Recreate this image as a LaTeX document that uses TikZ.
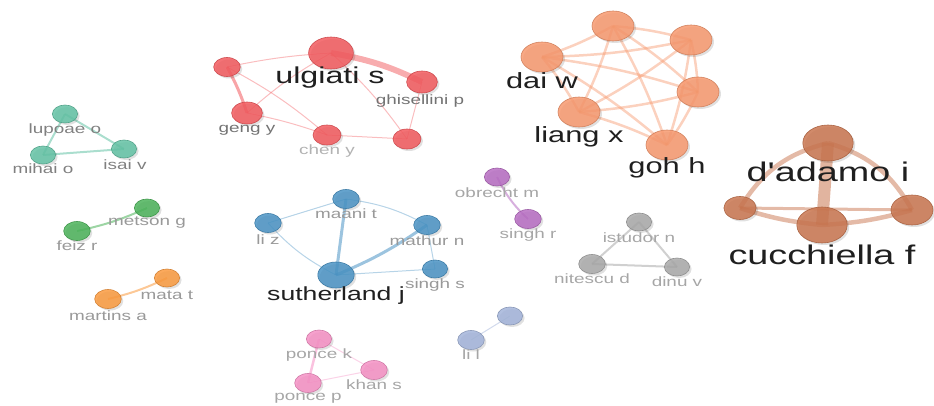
\documentclass[tikz,border=0pt]{standalone}
\usepackage{fontspec}
\setmainfont{Liberation Sans}[Ligatures=TeXOff]
\usetikzlibrary{shapes.geometric,shadows}
\definecolor{cteal}{HTML}{64C2A5}
\definecolor{cred}{HTML}{F25A5E}
\definecolor{csalm}{HTML}{F7996F}
\definecolor{cbrown}{HTML}{C97650}
\definecolor{cgreen}{HTML}{4CB35A}
\definecolor{corange}{HTML}{FA9A3F}
\definecolor{cblue}{HTML}{4A93C4}
\definecolor{cpurple}{HTML}{B76DC2}
\definecolor{cgray}{HTML}{A9A9A9}
\definecolor{cpink}{HTML}{F590C4}
\definecolor{clav}{HTML}{A3B4D9}
\tikzset{
  bub/.style={ellipse, inner sep=0pt, draw=#1!85!black, line width=0.6pt, fill=#1, fill opacity=0.85,
    drop shadow={shadow xshift=2pt, shadow yshift=-2pt, opacity=0.12, fill=black}},
  sz/.style={minimum height={2*#1pt}, minimum width={2.8*#1pt}},
  lbl/.style={xscale=1.4, inner sep=0pt, text=#1, font=\fontsize{13.5}{15}\selectfont},
  lbl/.default={black!45},
  big/.style={xscale=1.4, inner sep=0pt, text=black!88, font=\fontsize{#1}{#1}\selectfont},
  ed/.style={draw=#1, draw opacity=0.55, line width=1pt},
}
\begin{document}
\begin{tikzpicture}[x=1pt,y=-1pt]
\useasboundingbox (0,0) rectangle (934,406);
% ---------- coordinates for nodes (edges drawn first) ----------
% teal
\coordinate (lupc) at (65,114); \coordinate (mihc) at (43,155); \coordinate (isac) at (124,149);
% red
\coordinate (ulgc) at (331,53); \coordinate (ghic) at (422,82); \coordinate (tlc) at (227,67);
\coordinate (genc) at (247,113); \coordinate (chec) at (327,135); \coordinate (brc) at (407,139);
% salmon
\coordinate (s1c) at (613,26); \coordinate (s2c) at (691,40); \coordinate (daic) at (542,57);
\coordinate (s4c) at (698,92); \coordinate (liac) at (579,112); \coordinate (gohc) at (667,145);
% brown
\coordinate (dadc) at (828,143); \coordinate (blc) at (740,208); \coordinate (bryc) at (912,210); \coordinate (cucc) at (822,225);
% green / orange
\coordinate (metc) at (147,208); \coordinate (feic) at (77,231);
\coordinate (matc) at (167,278); \coordinate (marc) at (108,299);
% blue
\coordinate (maac) at (346,199); \coordinate (lizc) at (268,223); \coordinate (mthc) at (427,225);
\coordinate (sisc) at (435,269); \coordinate (sutc) at (336,275);
% purple / gray
\coordinate (obrc) at (497,177); \coordinate (sirc) at (528,219);
\coordinate (istc) at (639,222); \coordinate (nitc) at (592,264); \coordinate (dinc) at (677,267);
% pink / lavender
\coordinate (pokc) at (319,339); \coordinate (khac) at (374,370); \coordinate (popc) at (308,383);
\coordinate (lilc) at (471,340); \coordinate (lvc) at (510,316);

% ---------- edges ----------
\draw[ed=cteal, line width=2pt] (lupc) -- (mihc);
\draw[ed=cteal, line width=2pt] (lupc) -- (isac);
\draw[ed=cteal, line width=2pt] (mihc) -- (isac);

\draw[ed=cred, line width=6pt, draw opacity=0.5] (ulgc) to[bend left=8] (ghic);
\draw[ed=cred, line width=3pt] (tlc) to[bend left=5] (genc);
\draw[ed=cred, draw opacity=0.4] (tlc) to[bend left=4] (ulgc);
\draw[ed=cred, draw opacity=0.4] (tlc) to[bend left=6] (chec);
\draw[ed=cred, draw opacity=0.4] (genc) to[bend left=6] (ulgc);
\draw[ed=cred, draw opacity=0.4] (genc) to[bend left=4] (chec);
\draw[ed=cred, draw opacity=0.4] (chec) -- (brc);
\draw[ed=cred, draw opacity=0.4] (ulgc) to[bend left=6] (brc);
\draw[ed=cred, draw opacity=0.4] (ghic) -- (brc);

\foreach \a/\b in {s1c/s2c, s1c/daic, s1c/s4c, s1c/liac, s1c/gohc,
                   s2c/daic, s2c/s4c, s2c/liac, s2c/gohc,
                   daic/s4c, daic/liac, daic/gohc,
                   s4c/liac, s4c/gohc, liac/gohc}
  \draw[ed=csalm, line width=2.5pt, draw opacity=0.45] (\a) to[bend left=5] (\b);

\draw[ed=cbrown, line width=12pt, draw opacity=0.55] (dadc) -- (cucc);
\draw[ed=cbrown, line width=4.5pt, draw opacity=0.5] (dadc) to[bend right=22] (blc);
\draw[ed=cbrown, line width=4.5pt, draw opacity=0.5] (dadc) to[bend left=22] (bryc);
\draw[ed=cbrown, line width=3pt, draw opacity=0.5] (blc) -- (bryc);
\draw[ed=cbrown, line width=4.5pt, draw opacity=0.5] (blc) to[bend right=6] (cucc);
\draw[ed=cbrown, line width=4.5pt, draw opacity=0.5] (cucc) to[bend right=6] (bryc);

\draw[ed=cgreen, line width=2pt] (feic) to[bend right=6] (metc);
\draw[ed=corange, line width=2pt] (marc) to[bend right=6] (matc);

\draw[ed=cblue, draw opacity=0.4] (lizc) -- (maac);
\draw[ed=cblue, draw opacity=0.4] (maac) to[bend left=10] (mthc);
\draw[ed=cblue, draw opacity=0.4] (lizc) to[bend right=10] (sutc);
\draw[ed=cblue, line width=3pt, draw opacity=0.55] (maac) -- (sutc);
\draw[ed=cblue, line width=3pt, draw opacity=0.55] (sutc) to[bend right=6] (mthc);
\draw[ed=cblue, draw opacity=0.4] (mthc) -- (sisc);
\draw[ed=cblue, draw opacity=0.4] (sutc) -- (sisc);

\draw[ed=cpurple, line width=2pt] (obrc) to[bend right=10] (sirc);
\draw[ed=cgray, line width=2pt] (istc) -- (nitc);
\draw[ed=cgray, line width=2pt] (istc) -- (dinc);
\draw[ed=cgray, line width=2pt] (nitc) -- (dinc);

\draw[ed=cpink, line width=2.5pt] (pokc) -- (popc);
\draw[ed=cpink, draw opacity=0.4] (pokc) -- (khac);
\draw[ed=cpink, draw opacity=0.4] (popc) -- (khac);
\draw[ed=clav, draw opacity=0.5] (lilc) -- (lvc);

% ---------- nodes ----------
\node[bub=cteal, sz=9] (lup) at (lupc) {};
\node[bub=cteal, sz=9] (mih) at (mihc) {};
\node[bub=cteal, sz=9] (isa) at (isac) {};

\node[bub=cred, sz=16] (ulg) at (ulgc) {};
\node[bub=cred, sz=11] (ghi) at (ghic) {};
\node[bub=cred, sz=9.5] (tl) at (tlc) {};
\node[bub=cred, sz=11] (gen) at (genc) {};
\node[bub=cred, sz=10] (che) at (chec) {};
\node[bub=cred, sz=10] (br) at (brc) {};

\node[bub=csalm, sz=15] (s1) at (s1c) {};
\node[bub=csalm, sz=15] (s2) at (s2c) {};
\node[bub=csalm, sz=15] (dai) at (daic) {};
\node[bub=csalm, sz=15] (s4) at (s4c) {};
\node[bub=csalm, sz=15] (lia) at (liac) {};
\node[bub=csalm, sz=15] (goh) at (gohc) {};

\node[bub=cbrown, sz=18] (dad) at (dadc) {};
\node[bub=cbrown, sz=11.5] (bl) at (blc) {};
\node[bub=cbrown, sz=15] (bry) at (bryc) {};
\node[bub=cbrown, sz=18] (cuc) at (cucc) {};

\node[bub=cgreen, sz=9] (met) at (metc) {};
\node[bub=cgreen, sz=9.5] (fei) at (feic) {};
\node[bub=corange, sz=9] (mat) at (matc) {};
\node[bub=corange, sz=9.5] (mar) at (marc) {};

\node[bub=cblue, sz=9.5] (maa) at (maac) {};
\node[bub=cblue, sz=9.5] (liz) at (lizc) {};
\node[bub=cblue, sz=9.5] (mth) at (mthc) {};
\node[bub=cblue, sz=9] (sis) at (sisc) {};
\node[bub=cblue, sz=13] (sut) at (sutc) {};

\node[bub=cpurple, sz=9] (obr) at (obrc) {};
\node[bub=cpurple, sz=9.5] (sir) at (sirc) {};
\node[bub=cgray, sz=9] (ist) at (istc) {};
\node[bub=cgray, sz=9.5] (nit) at (nitc) {};
\node[bub=cgray, sz=9] (din) at (dinc) {};

\node[bub=cpink, sz=9] (pok) at (pokc) {};
\node[bub=cpink, sz=9.5] (kha) at (khac) {};
\node[bub=cpink, sz=9.5] (pop) at (popc) {};
\node[bub=clav, sz=9.5] (lil) at (lilc) {};
\node[bub=clav, sz=9] (lv) at (lvc) {};

% ---------- labels ----------
\node[lbl=black!50] (tlup) at (65,130) {lupoae o};
\node[lbl=black!50] (tmih) at (43,169) {mihai o};
\node[lbl=black!50] (tisa) at (125,165) {isai v};

\node[big=23] (tulg) at (330,78) {ulgiati s};
\node[lbl=black!55] (tghi) at (420,101) {ghisellini p};
\node[lbl=black!55] (tgen) at (247,130) {geng y};
\node[lbl=black!30] (tche) at (327,151) {chen y};

\node[big=22] (tdai) at (542,81) {dai w};
\node[big=22] (tlia) at (579,137) {liang x};
\node[big=22] (tgoh) at (667,168) {goh h};

\node[big=27] (tdad) at (828,172) {d'adamo i};
\node[big=27] (tcuc) at (822,255) {cucchiella f};

\node[lbl=black!40] (tmet) at (147,223) {metson g};
\node[lbl=black!40] (tfei) at (77,246) {feiz r};
\node[lbl=black!40] (tmat) at (167,295) {mata t};
\node[lbl=black!40] (tmar) at (108,316) {martins a};

\node[lbl=black!40] (tmaa) at (346,214) {maani t};
\node[lbl=black!40] (tliz) at (268,240) {li z};
\node[lbl=black!40] (tmth) at (427,241) {mathur n};
\node[lbl=black!40] (tsis) at (435,285) {singh s};
\node[big=19] (tsut) at (336,296) {sutherland j};

\node[lbl=black!35] (tobr) at (497,193) {obrecht m};
\node[lbl=black!35] (tsir) at (528,235) {singh r};
\node[lbl=black!35] (tist) at (639,238) {istudor n};
\node[lbl=black!35] (tnit) at (592,279) {nitescu d};
\node[lbl=black!35] (tdin) at (677,282) {dinu v};

\node[lbl=black!35] (tpok) at (319,355) {ponce k};
\node[lbl=black!35] (tkha) at (374,385) {khan s};
\node[lbl=black!35] (tpop) at (308,398) {ponce p};
\node[lbl=black!35] (tlil) at (471,355) {li l};
\end{tikzpicture}
\end{document}
